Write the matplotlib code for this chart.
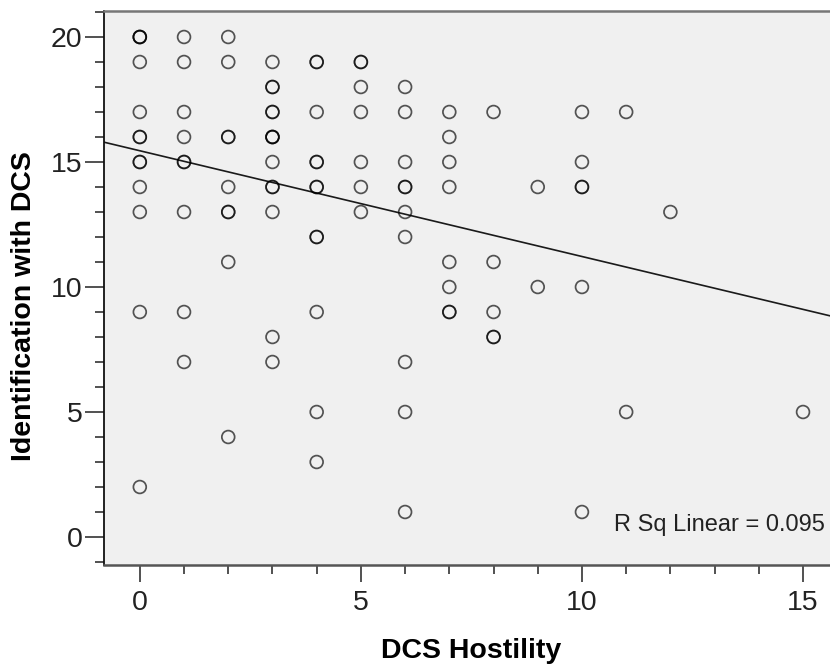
import numpy as np
import matplotlib
matplotlib.use('Agg')
import matplotlib.pyplot as plt
from matplotlib.ticker import MultipleLocator

plt.rcParams['font.family'] = ['Liberation Sans', 'DejaVu Sans']

# one entry per case, overlapping cases repeated (drawn darker)
hostility = [0, 0, 0, 0, 0, 0, 0, 0, 0, 0, 0, 0, 0,
             1, 1, 1, 1, 1, 1, 1, 1, 1,
             2, 2, 2, 2, 2, 2, 2, 2, 2,
             3, 3, 3, 3, 3, 3, 3, 3, 3, 3, 3, 3, 3, 3,
             4, 4, 4, 4, 4, 4, 4, 4, 4, 4, 4, 4,
             5, 5, 5, 5, 5, 5, 5,
             6, 6, 6, 6, 6, 6, 6, 6, 6, 6,
             7, 7, 7, 7, 7, 7, 7, 7,
             8, 8, 8, 8, 8,
             9, 9,
             10, 10, 10, 10, 10, 10,
             11, 11,
             12,
             15]
identification = [20, 20, 20, 19, 17, 16, 16, 15, 15, 14, 13, 9, 2,
                  20, 19, 17, 16, 15, 15, 13, 9, 7,
                  20, 19, 16, 16, 14, 13, 13, 11, 4,
                  19, 18, 18, 17, 17, 16, 16, 16, 15, 14, 14, 13, 8, 7,
                  19, 19, 17, 15, 15, 14, 14, 12, 12, 9, 5, 3,
                  19, 19, 18, 17, 15, 14, 13,
                  18, 17, 15, 14, 14, 13, 12, 7, 5, 1,
                  17, 16, 15, 14, 11, 10, 9, 9,
                  17, 11, 9, 8, 8,
                  14, 10,
                  17, 15, 14, 14, 10, 1,
                  17, 5,
                  13,
                  5]

# fit line
fit_intercept = 15.45
fit_slope = -0.423
r_sq_text = 'R Sq Linear = 0.095'

xlim = (-0.81, 15.61)
ylim = (-1.12, 21.04)

fig = plt.figure(figsize=(8.3, 6.7), dpi=100)
ax = fig.add_axes([104 / 830, 1 - 565 / 670, 1 - 104 / 830, (565 - 11) / 670])
ax.set_facecolor('#f0f0f0')

ax.scatter(hostility, identification, s=85, facecolors='none',
           edgecolors=(0, 0, 0, 0.66), linewidths=1.25, zorder=3)

xs = np.array(xlim)
ax.plot(xs, fit_intercept + fit_slope * xs, color='#1a1a1a', lw=1.2, zorder=2)

ax.text(10.72, 0.22, r_sq_text, fontsize=17, color='#222222',
        ha='left', va='baseline')

ax.set_xlim(xlim)
ax.set_ylim(ylim)

ax.xaxis.set_major_locator(MultipleLocator(5))
ax.xaxis.set_minor_locator(MultipleLocator(1))
ax.yaxis.set_major_locator(MultipleLocator(5))
ax.yaxis.set_minor_locator(MultipleLocator(1))

ax.tick_params(axis='x', which='major', length=12, width=1.2, color='#333333',
               labelsize=20.5, pad=6, labelcolor='#222222')
ax.tick_params(axis='x', which='minor', length=6.5, width=1.2, color='#333333')
ax.tick_params(axis='y', which='major', length=13.5, width=1.2, color='#333333',
               labelsize=20.5, pad=2, labelcolor='#222222')
ax.tick_params(axis='y', which='minor', length=6.5, width=1.2, color='#333333')

ax.spines['right'].set_visible(False)
ax.spines['top'].set_color('#777777')
ax.spines['top'].set_linewidth(1.8)
ax.spines['bottom'].set_color('#555555')
ax.spines['bottom'].set_linewidth(1.8)
ax.spines['left'].set_color('#111111')
ax.spines['left'].set_linewidth(1.3)

fig.text(471 / 830, 1 - 651 / 670, 'DCS Hostility', fontsize=20.5,
         fontweight='bold', ha='center', va='center')
fig.text(24 / 830, 1 - 306 / 670, 'Identification with DCS', fontsize=20.5,
         fontweight='bold', rotation=90, ha='center', va='center')

fig.savefig('out.png', dpi=100)
